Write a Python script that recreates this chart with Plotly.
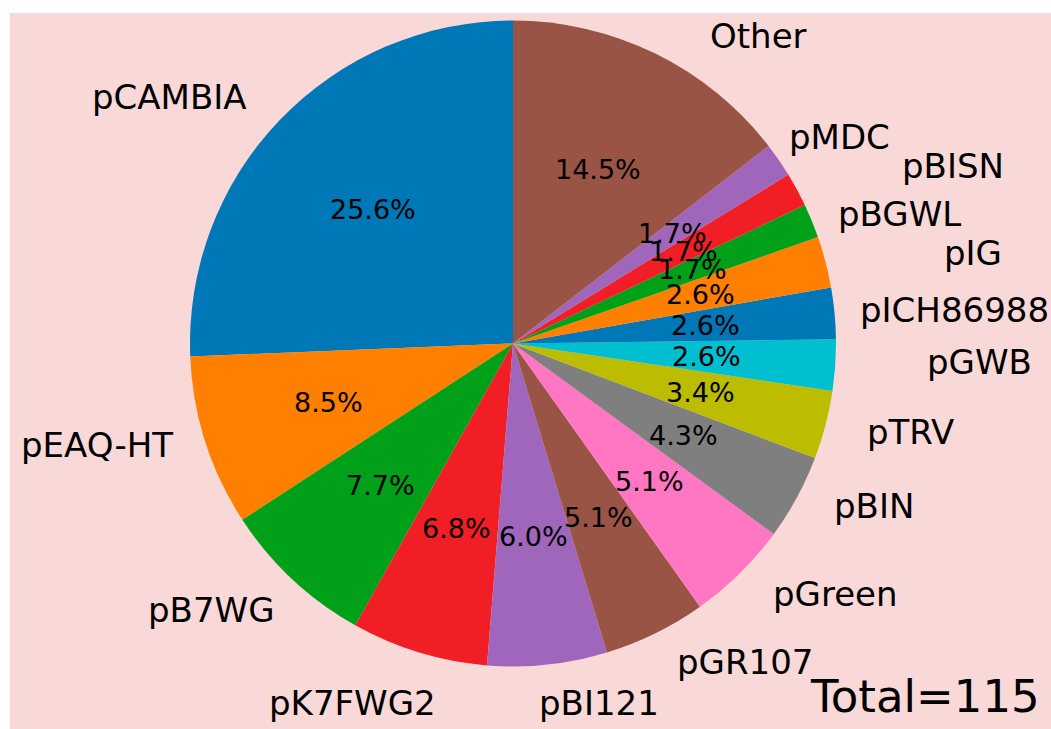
import math
import plotly.graph_objects as go

# ---- data ----
labels = ["pCAMBIA", "pEAQ-HT", "pB7WG", "pK7FWG2", "pBI121", "pGR107", "pGreen",
          "pBIN", "pTRV", "pGWB", "pICH86988", "pIG", "pBGWL", "pBISN", "pMDC", "Other"]
counts = [30, 10, 9, 8, 7, 6, 6, 5, 4, 3, 3, 3, 2, 2, 2, 17]
total_text = "Total=115"

# ---- style ----
colors = ["#0077b6", "#ff7f00", "#00a018", "#f21e25", "#a066bc", "#9a5445", "#ff76c3",
          "#7f7f7f", "#bcbc00", "#00bfd1", "#0077b6", "#ff7f00", "#00a018", "#f21e25",
          "#a066bc", "#9a5445"]
# manual label nudges in pixels (dx right, dy down) relative to labeldistance=1.1
label_nudge = [(-8, 0), (0, -6), (7, 7), (28, 20), (-14, 6), (5, 0), (8, -2), (7, -7),
               (8, -1), (58, -5), (-9, 0), (85, -1), (-6, 5), (75, -8), (-18, -5), (38, 11)]

FIG_W, FIG_H = 1051, 729
L, T, W, H = 190, 20, 646, 647
R = min(W, H) / 2.0
CX, CY = L + W / 2.0, T + H / 2.0


def px2paper(px, py):
    return (px - L) / W, 1 - (py - T) / H


tot = sum(counts)
# plotly (counterclockwise) places the first slice ending at 12 o'clock at rotation 0;
# shift so that the first slice starts at 12 o'clock, as in the reference
first_angle = counts[0] / tot * 360.0

fig = go.Figure(go.Pie(
    labels=labels, values=counts, sort=False, direction="counterclockwise",
    rotation=-first_angle, marker=dict(colors=colors, line=dict(width=0)),
    textinfo="none", hoverinfo="label+percent", showlegend=False,
))

annotations = []
cum = 0
for lab, c, (dx, dy) in zip(labels, counts, label_nudge):
    mid = 90 + (cum + c / 2.0) / tot * 360.0
    cum += c
    ca, sa = math.cos(math.radians(mid)), math.sin(math.radians(mid))
    # percentage text
    px, py = CX + 0.6 * R * ca, CY - 0.6 * R * sa
    x, y = px2paper(px, py)
    annotations.append(dict(x=x, y=y, xref="paper", yref="paper", text=f"{c / tot * 100:.1f}%",
                            showarrow=False, xanchor="center", yanchor="middle",
                            font=dict(family="DejaVu Sans", size=27, color="black")))
    # outer label
    lx, ly = CX + 1.1 * R * ca + dx, CY - 1.1 * R * sa + dy
    x, y = px2paper(lx, ly)
    annotations.append(dict(x=x, y=y, xref="paper", yref="paper", text=lab,
                            showarrow=False, xanchor="left" if ca > 0 else "right",
                            yanchor="middle",
                            font=dict(family="DejaVu Sans", size=34, color="black")))

x, y = px2paper(1042, 696)
annotations.append(dict(x=x, y=y, xref="paper", yref="paper", text=total_text, showarrow=False,
                        xanchor="right", yanchor="middle",
                        font=dict(family="DejaVu Sans", size=45, color="black")))

x0, y0 = px2paper(10, 13)
x1, y1 = px2paper(FIG_W + 5, FIG_H + 5)
fig.update_layout(
    width=FIG_W, height=FIG_H,
    margin=dict(l=L, r=FIG_W - L - W, t=T, b=FIG_H - T - H, autoexpand=False),
    paper_bgcolor="white",
    annotations=annotations,
    shapes=[dict(type="rect", xref="paper", yref="paper", x0=x0, y0=y0, x1=x1, y1=y1,
                 fillcolor="#f9d9d8", line=dict(width=0), layer="below")],
)

fig.write_html("out.html", config={"displayModeBar": False},
               post_script="document.body.style.margin='0';document.body.style.overflow='hidden';")
